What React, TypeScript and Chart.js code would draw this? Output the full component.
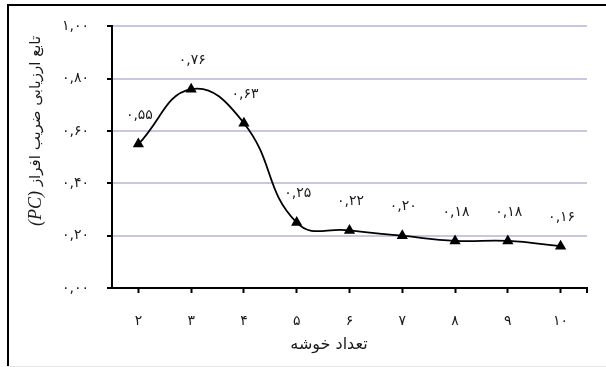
import React, { useEffect, useRef } from 'react';
import { Chart, registerables } from 'chart.js';
Chart.register(...registerables);

const categories = [2, 3, 4, 5, 6, 7, 8, 9, 10];
const pcValues = [0.55, 0.76, 0.63, 0.25, 0.22, 0.2, 0.18, 0.18, 0.16];
const yMin = 0;
const yMax = 1;
const yStep = 0.2;
const xTitle = 'تعداد خوشه';
const yTitleArabic = 'تابع ارزیابی ضریب افراز';
const yTitleLatin = '(PC)';

const FA = '۰۱۲۳۴۵۶۷۸۹';
const toFa = (s: string) => s.replace(/[0-9]/g, (d) => FA[+d]);
const fmt = (v: number) => toFa(v.toFixed(2).replace('.', ','));

const FONT = '"DejaVu Sans", "Noto Sans", sans-serif';
const GRID = '#cdc5df';
const INK = '#1a1a1a';

const decor = {
  id: 'decor',
  beforeDraw(chart: any) {
    const ctx = chart.ctx;
    ctx.save();
    ctx.fillStyle = '#ffffff';
    ctx.fillRect(0, 0, chart.width, chart.height);
    ctx.fillStyle = '#000000';
    ctx.fillRect(7, 4, chart.width - 7, 2);
    ctx.fillRect(7, 4, 2, chart.height - 4);
    ctx.fillStyle = '#e6e6e6';
    ctx.fillRect(7, chart.height - 1, chart.width - 7, 1);
    ctx.restore();
  },
  afterDatasetsDraw(chart: any) {
    const ctx = chart.ctx;
    const meta = chart.getDatasetMeta(0);
    ctx.save();
    ctx.font = `14px ${FONT}`;
    ctx.fillStyle = INK;
    ctx.textAlign = 'center';
    ctx.textBaseline = 'middle';
    meta.data.forEach((pt: any, i: number) => {
      ctx.fillText(fmt(pcValues[i]), pt.x + 1, pt.y - 29);
    });
    ctx.restore();
  },
  afterDraw(chart: any) {
    const ctx = chart.ctx;
    const area = chart.chartArea;
    ctx.save();
    // end tick on x axis
    ctx.strokeStyle = '#000';
    ctx.lineWidth = 2;
    ctx.beginPath();
    ctx.moveTo(area.right, area.bottom);
    ctx.lineTo(area.right, area.bottom + 5);
    ctx.stroke();
    // x title
    ctx.fillStyle = INK;
    ctx.font = `16px ${FONT}`;
    ctx.textAlign = 'center';
    ctx.textBaseline = 'middle';
    ctx.fillText(xTitle, 329, 345);
    // y title (rotated)
    const arFont = `15px ${FONT}`;
    const laFont = `italic 18px "Liberation Serif", serif`;
    ctx.font = arFont;
    const wA = ctx.measureText(yTitleArabic).width;
    ctx.font = laFont;
    const wP = ctx.measureText(yTitleLatin).width;
    const gap = 5;
    const w = wA + gap + wP;
    ctx.translate(36, 131);
    ctx.rotate(-Math.PI / 2);
    ctx.textAlign = 'left';
    ctx.textBaseline = 'middle';
    ctx.font = laFont;
    ctx.fillText(yTitleLatin, -w / 2, 0);
    ctx.font = arFont;
    ctx.fillText(yTitleArabic, -w / 2 + wP + gap, 0);
    ctx.restore();
  },
};

export default function App() {
  const ref = useRef<HTMLCanvasElement | null>(null);
  useEffect(() => {
    if (!ref.current) return;
    const chart = new Chart(ref.current, {
      type: 'line',
      data: {
        labels: categories.map((c) => toFa(String(c))),
        datasets: [
          {
            data: pcValues,
            borderColor: '#000',
            backgroundColor: '#000',
            borderWidth: 1.8,
            tension: 0.45,
            pointStyle: 'triangle',
            pointRadius: 6.5,
            pointBackgroundColor: '#000',
            pointBorderColor: '#000',
            pointBorderWidth: 0,
            fill: false,
          },
        ],
      },
      options: {
        animation: false,
        responsive: false,
        events: [],
        layout: { padding: { left: 0, top: 20, right: 19, bottom: 0 } },
        plugins: {
          legend: { display: false },
          tooltip: { enabled: false },
          title: { display: false },
        },
        scales: {
          x: {
            type: 'category',
            offset: true,
            afterFit(scale: any) {
              scale.height = 79;
            },
            grid: {
              offset: false,
              drawOnChartArea: false,
              drawTicks: true,
              tickLength: 5,
              tickColor: '#000',
              tickWidth: 2,
            },
            border: { color: '#000', width: 2 },
            ticks: {
              padding: 20,
              color: INK,
              font: { family: FONT, size: 14 },
              maxRotation: 0,
            },
          },
          y: {
            min: yMin,
            max: yMax,
            afterFit(scale: any) {
              scale.width = 112;
            },
            grid: {
              color: GRID,
              lineWidth: 2,
              drawTicks: true,
              tickLength: 5,
              tickColor: '#000',
              tickWidth: 2,
            },
            border: { color: '#000', width: 2 },
            ticks: {
              stepSize: yStep,
              padding: 18,
              color: INK,
              font: { family: FONT, size: 14 },
              callback: (v: any) => fmt(Number(v)),
            },
          },
        },
      },
      plugins: [decor],
    });
    return () => chart.destroy();
  }, []);
  return (
    <div style={{ position: 'fixed', left: 0, top: 0, width: 606, height: 367 }}>
      <canvas ref={ref} width={606} height={367} />
    </div>
  );
}
